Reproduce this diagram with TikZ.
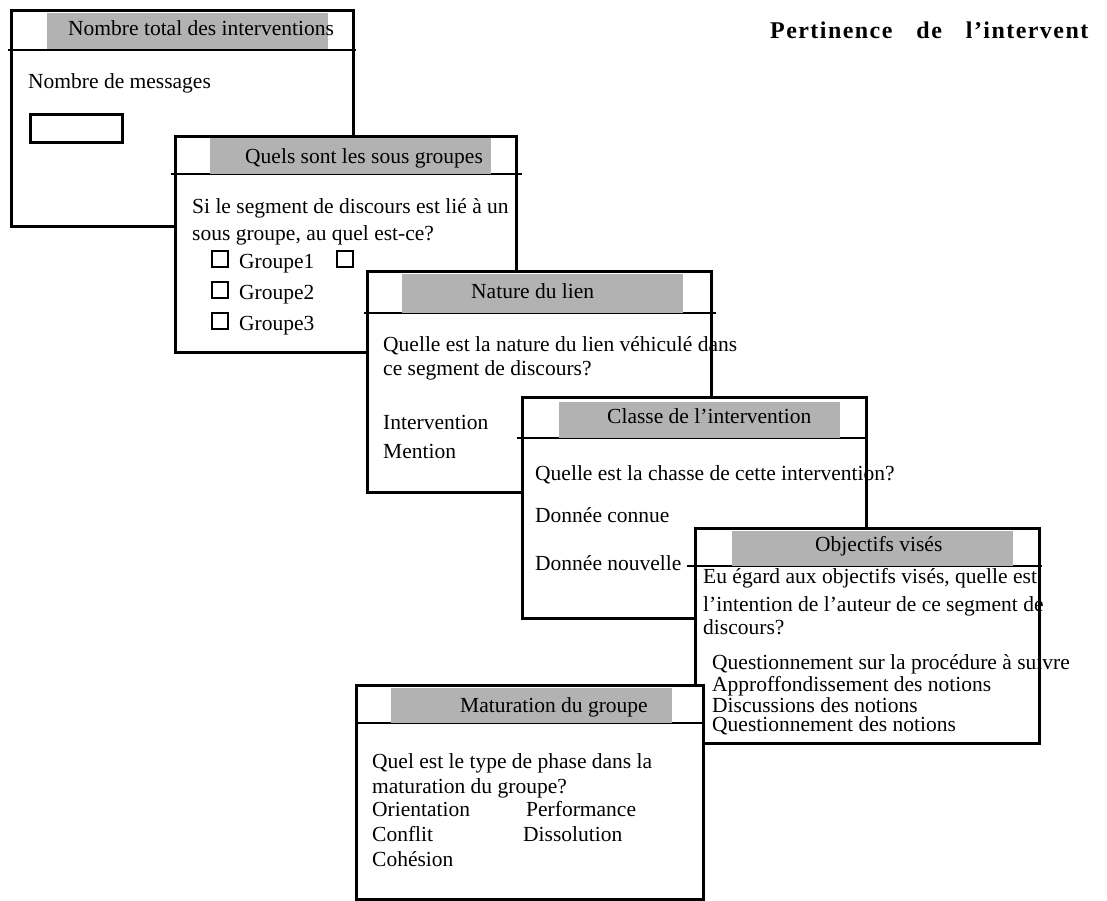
\documentclass[tikz,border=0pt]{standalone}
\usepackage{fontspec}
\setmainfont{Liberation Serif}
\newfontfamily\spacedfont{Liberation Serif}[LetterSpace=6, BoldFont={* Bold}]
\usepackage{tikz}
\usetikzlibrary{positioning}
\definecolor{hdrgray}{gray}{0.70}

\begin{document}
\begin{tikzpicture}[
  x=1pt, y=-1pt,
  card/.style={rectangle, draw=black, line width=2.6pt, fill=white,
               anchor=north west, inner sep=0pt},
  hdr/.style={rectangle, fill=hdrgray, anchor=north west, inner sep=0pt,
              minimum width=281pt, minimum height=36pt},
  hline/.style={line width=2.6pt},
  txt/.style={anchor=base west, inner sep=0pt,
              font=\fontsize{21.5}{24}\selectfont},
  chk/.style={rectangle, draw=black, line width=2.4pt, anchor=south west,
              inner sep=0pt, minimum size=16pt}
]
\useasboundingbox (0,0) rectangle (1107,900);

\node[anchor=base west, inner sep=0pt,
      font=\spacedfont\bfseries\fontsize{24}{26}\selectfont] (pertinence)
  at (770,38) {Pertinence\hspace{24pt}de\hspace{24pt}l’intervent};

\node[card, minimum width=342pt, minimum height=216pt] (nombre) at (10,9) {};
\draw[hline] ([xshift=-2pt]nombre.north west) ++(0,-41pt) -- ++(348pt,0);
\node[hdr, below right=4pt and 37pt of nombre.north west] (nombrehdr) {};
\node[txt] (nombretitle) at (68,35) {Nombre total des interventions};
\node[txt] (messages) at (28,88) {Nombre de messages};
\node[card, minimum width=92pt, minimum height=28pt] (msgbox) at (29,113) {};

\node[card, minimum width=341pt, minimum height=216pt] (sousgr) at (174,135) {};
\draw[hline] ([xshift=-3pt]sousgr.north west) ++(0,-39pt) -- ++(351pt,0);
\node[hdr, below right=3pt and 36pt of sousgr.north west] (sousgrhdr) {};
\node[txt] (sousgrtitle) at (245,163) {Quels sont les sous groupes};
\node[txt] (sousgrq1) at (192,213) {Si le segment de discours est lié à un};
\node[txt] (sousgrq2) at (192,240) {sous groupe, au quel est-ce?};
\node[chk] (chka) at (211,268) {};
\node[txt] (groupe1) at (239,268) {Groupe1};
\node[chk] (chkb) at (336,268) {};
\node[chk] (chkc) at (211,299) {};
\node[txt] (groupe2) at (239,299) {Groupe2};
\node[chk] (chkd) at (211,330) {};
\node[txt] (groupe3) at (239,330) {Groupe3};

\node[card, minimum width=344pt, minimum height=221pt] (lien) at (366,270) {};
\draw[hline] ([xshift=-2pt]lien.north west) ++(0,-43pt) -- ++(352pt,0);
\node[hdr, below right=4pt and 36pt of lien.north west, minimum height=39pt] (lienhdr) {};
\node[txt] (lientitle) at (471,298) {Nature du lien};
\node[txt] (lienq1) at (383,351) {Quelle est la nature du lien véhiculé dans};
\node[txt] (lienq2) at (383,375) {ce segment de discours?};
\node[txt] (intervention) at (383,429) {Intervention};
\node[txt] (mention) at (383,458) {Mention};

\node[card, minimum width=344pt, minimum height=221pt] (classe) at (521,396) {};
\draw[hline] ([xshift=-4pt]classe.north west) ++(0,-42pt) -- ++(351pt,0);
\node[hdr, below right=6pt and 38pt of classe.north west] (classehdr) {};
\node[txt] (classetitle) at (607,423) {Classe de l’intervention};
\node[txt] (classeq) at (535,480) {Quelle est la chasse de cette intervention?};
\node[txt] (connue) at (535,522) {Donnée connue};
\node[txt] (nouvelle) at (535,570) {Donnée nouvelle};

\node[card, minimum width=344pt, minimum height=215pt] (objectifs) at (694,527) {};
\draw[hline] ([xshift=-7pt]objectifs.north west) ++(0,-39pt) -- ++(355pt,0);
\node[hdr, below right=4pt and 38pt of objectifs.north west, minimum height=35pt] (objectifshdr) {};
\node[txt] (objectifstitle) at (815,551) {Objectifs visés};
\node[txt] (objectifsq1) at (703,583) {Eu égard aux objectifs visés, quelle est};
\node[txt] (objectifsq2) at (703,611) {l’intention de l’auteur de ce segment de};
\node[txt] (objectifsq3) at (703,634) {discours?};
\node[txt] (procedure) at (712,669) {Questionnement sur la procédure à suivre};
\node[txt] (approf) at (712,691) {Approffondissement des notions};
\node[txt] (discussions) at (712,712) {Discussions des notions};
\node[txt] (questions) at (712,731) {Questionnement des notions};

\node[card, minimum width=347pt, minimum height=214pt] (maturation) at (355,684) {};
\draw[hline] (maturation.north west) ++(0,-39pt) -- ++(350pt,0);
\node[hdr, below right=4pt and 36pt of maturation.north west, minimum height=35pt] (maturationhdr) {};
\node[txt] (maturationtitle) at (460,712) {Maturation du groupe};
\node[txt] (maturationq1) at (372,768) {Quel est le type de phase dans la};
\node[txt] (maturationq2) at (372,793) {maturation du groupe?};
\node[txt] (orientation) at (372,816) {Orientation};
\node[txt] (performance) at (526,816) {Performance};
\node[txt] (conflit) at (372,841) {Conflit};
\node[txt] (dissolution) at (523,841) {Dissolution};
\node[txt] (cohesion) at (372,866) {Cohésion};

\end{tikzpicture}
\end{document}
